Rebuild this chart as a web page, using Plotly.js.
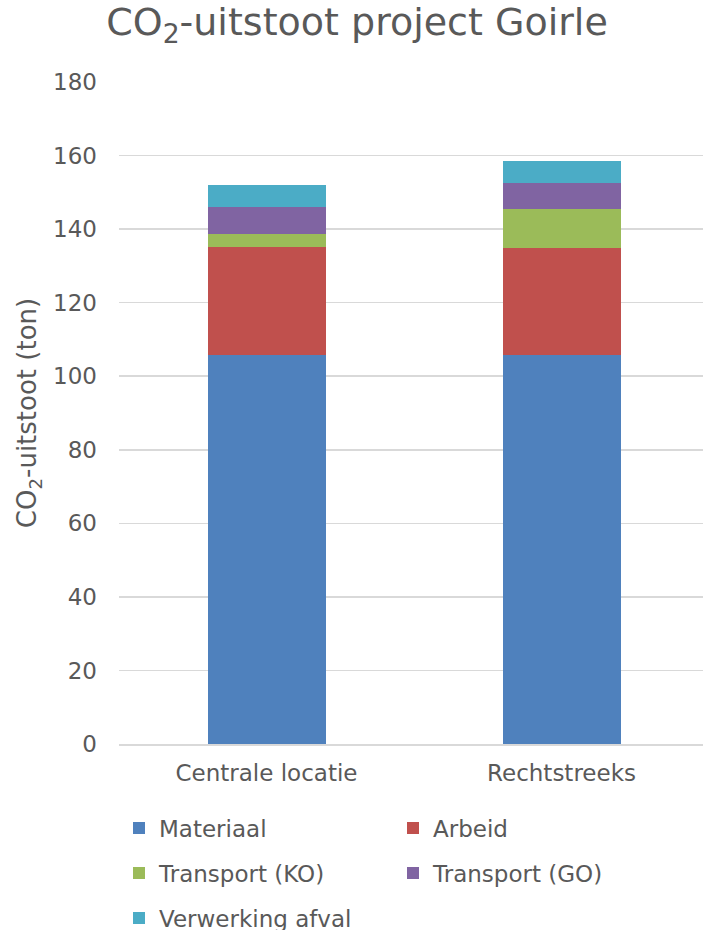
<!DOCTYPE html>
<html>
<head>
<meta charset="utf-8">
<script src="https://cdn.plot.ly/plotly-3.0.1.min.js"></script>
<style>
html,body{margin:0;padding:0;overflow:hidden;background:#fff;}
#chart{width:712px;height:930px;}
</style>
</head>
<body>
<div id="chart"></div>
<script>
const categories = ["Centrale locatie", "Rechtstreeks"];
const seriesNames = ["Materiaal", "Arbeid", "Transport (KO)", "Transport (GO)", "Verwerking afval"];
const materiaal = [105.9, 105.9];
const arbeid = [29.2, 29.1];
const transportKO = [3.6, 10.4];
const transportGO = [7.3, 7.1];
const verwerkingAfval = [5.9, 5.9];
const yTicks = [0, 20, 40, 60, 80, 100, 120, 140, 160, 180];

const colors = ["#4F81BD", "#C0504D", "#9BBB59", "#8064A2", "#4BACC6"];
const values = [materiaal, arbeid, transportKO, transportGO, verwerkingAfval];
const legendIds = ["legend", "legend", "legend2", "legend2", "legend3"];

const traces = values.map((v, i) => ({
  type: "bar",
  name: seriesNames[i],
  x: categories,
  y: v,
  legend: legendIds[i],
  marker: {color: colors[i], line: {width: 0}},
  hoverinfo: "x+y+name"
}));

const font = {family: "DejaVu Sans, Verdana, sans-serif", color: "#595959"};
const H = 930, W = 712;

function legendAt(rowCenterPx) {
  return {
    orientation: "h",
    x: 119 / W, xref: "container", xanchor: "left",
    y: 1 - rowCenterPx / H, yref: "container", yanchor: "middle",
    entrywidth: 229,
    entrywidthmode: "pixels",
    traceorder: "normal",
    font: Object.assign({size: 23}, font),
    bgcolor: "rgba(0,0,0,0)"
  };
}

const layout = {
  width: W,
  height: H,
  barmode: "stack",
  bargap: 0.6,
  paper_bgcolor: "#fff",
  plot_bgcolor: "#fff",
  font: Object.assign({size: 23}, font),
  title: {
    text: "CO<sub>2</sub>-uitstoot project Goirle",
    font: Object.assign({size: 38}, font),
    x: 357 / W, xanchor: "center", xref: "container",
    y: 1 - 8 / H, yanchor: "top", yref: "container"
  },
  margin: {l: 119, r: 3, t: 82, b: 186},
  xaxis: {
    type: "category",
    range: [-0.5, 1.5],
    showgrid: false,
    showline: true,
    linecolor: "#D9D9D9",
    linewidth: 1.5,
    ticks: "",
    ticklabelstandoff: 8,
    tickfont: Object.assign({size: 23}, font),
    automargin: false
  },
  yaxis: {
    range: [0, 180],
    tickvals: yTicks,
    ticktext: yTicks.map(String),
    showgrid: true,
    gridcolor: "#D9D9D9",
    gridwidth: 1.5,
    zeroline: false,
    showline: false,
    ticks: "",
    ticklabelstandoff: 21,
    tickfont: Object.assign({size: 23}, font),
    title: {text: "CO<sub>2</sub>-uitstoot (ton)", font: Object.assign({size: 26}, font), standoff: 8},
    automargin: false
  },
  showlegend: true,
  legend: legendAt(828),
  legend2: legendAt(873),
  legend3: legendAt(918)
};

Plotly.newPlot("chart", traces, layout, {displayModeBar: false, staticPlot: true});
</script>
</body>
</html>
